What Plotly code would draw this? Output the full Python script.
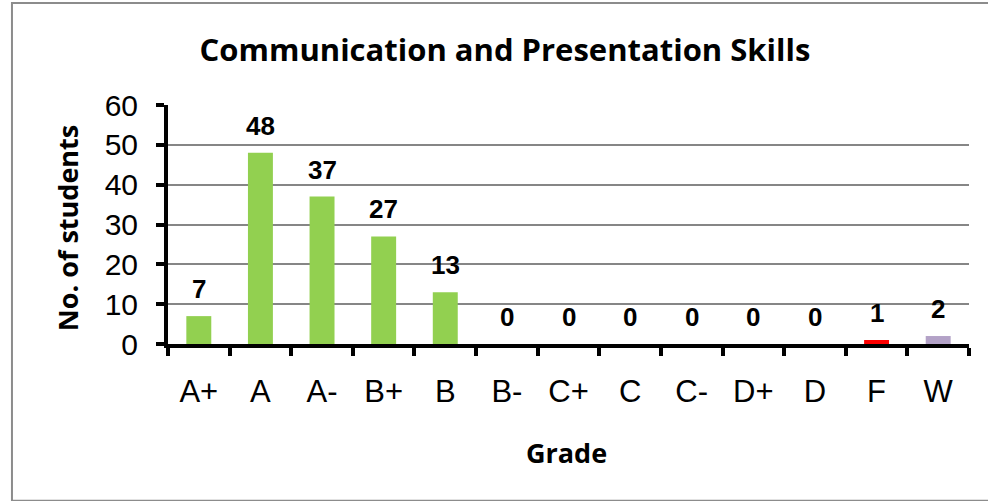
import plotly.graph_objects as go

grades = ["A+", "A", "A-", "B+", "B", "B-", "C+", "C", "C-", "D+", "D", "F", "W"]
students = [7, 48, 37, 27, 13, 0, 0, 0, 0, 0, 0, 1, 2]
bar_colors = ["#92D050"] * 11 + ["#FF0000", "#B3A2C7"]
y_ticks = [0, 10, 20, 30, 40, 50, 60]

title_text = "Communication and Presentation Skills"
x_title = "Grade"
y_title = "No. of students"

fig = go.Figure()
fig.add_trace(go.Bar(x=grades, y=students, marker=dict(color=bar_colors, line=dict(width=0)),
                     showlegend=False, hoverinfo="x+y"))

# data labels
for g, v in zip(grades, students):
    fig.add_annotation(x=g, y=v, text=f"<b>{v}</b>", showarrow=False, xref="x", yref="y",
                       yanchor="bottom", yshift=10,
                       font=dict(family="Liberation Sans, Arial", size=26, color="black"))

# axis titles
fig.add_annotation(x=-0.126, y=0.485, xref="paper", yref="paper", text=f"<b>{y_title}</b>",
                   textangle=-90, showarrow=False, xanchor="center", yanchor="middle",
                   font=dict(family="Open Sans", size=27, color="black"))
fig.add_annotation(x=0.498, y=-0.452, xref="paper", yref="paper", text=f"<b>{x_title}</b>",
                   showarrow=False, xanchor="center", yanchor="middle",
                   font=dict(family="Open Sans", size=27, color="black"))

# outer chart border
fig.add_shape(type="rect", xref="paper", yref="paper", x0=-0.1948, x1=1.1, y0=-0.656, y1=1.4268,
              line=dict(color="#8C8C8C", width=2), fillcolor="rgba(0,0,0,0)", layer="below")

fig.update_layout(
    width=988, height=501, autosize=False,
    margin=dict(l=168, r=19, t=105, b=157),
    paper_bgcolor="white", plot_bgcolor="white",
    bargap=0.595,
    title=dict(text=f"<b>{title_text}</b>", x=0.4207, xref="paper", xanchor="center",
               y=1 - 50 / 501, yref="container", yanchor="middle",
               font=dict(family="Open Sans", size=31, color="black")),
    xaxis=dict(type="category", showline=True, linecolor="black", linewidth=4,
               ticks="outside", tickson="boundaries", ticklen=8, tickwidth=4, tickcolor="black",
               ticklabelstandoff=17,
               tickfont=dict(family="Liberation Sans, Arial", size=31, color="black"),
               showgrid=False, zeroline=False),
    yaxis=dict(range=[0, 60], tickvals=y_ticks, showline=True, linecolor="black", linewidth=4,
               ticks="outside", ticklen=8, tickwidth=4, tickcolor="black",
               ticklabelstandoff=12,
               tickfont=dict(family="Liberation Sans, Arial", size=30, color="black"),
               showgrid=True, gridcolor="#868686", gridwidth=1.5, zeroline=False),
)

fig.write_html("out.html", config={"displayModeBar": False},
               post_script="document.body.style.margin='0';")
